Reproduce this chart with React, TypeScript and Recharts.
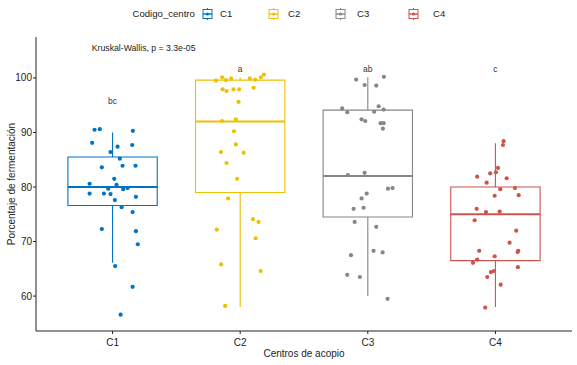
import React from "react";
import {
  ComposedChart,
  Scatter,
  XAxis,
  YAxis,
  ReferenceArea,
  ReferenceLine,
  Label,
} from "recharts";

const centros = ["C1", "C2", "C3", "C4"];
const colores = ["#0073C2", "#EFC000", "#868686", "#CD534C"];

// porcentaje de fermentacion por centro, con el desplazamiento horizontal (jitter)
const c1Valores = [90.5, 90.6, 90.3, 88.1, 87.4, 87.7, 86.4, 85.2, 83.6, 83.9, 83.9, 81.5, 80.6, 80.4, 79.7, 79.6, 79.8, 78.8, 78.8, 78.7, 77.6, 78.2, 76.3, 75.4, 72.3, 71.9, 69.5, 65.5, 61.7, 56.6];
const c1Jitter = [-0.141, -0.1, 0.159, -0.16, 0.039, 0.154, -0.016, 0.057, -0.084, 0.078, 0.18, 0.013, -0.18, 0.031, -0.034, 0.083, 0.118, -0.18, -0.068, -0.016, 0.018, 0.183, 0.071, 0.157, -0.084, 0.183, 0.198, 0.02, 0.157, 0.063];

const c2Valores = [99.5, 100.1, 99.6, 99.9, 99.9, 99.7, 100.1, 100.6, 97.9, 97.6, 97.9, 97.9, 98.2, 95.6, 92.1, 92.4, 90.2, 87.8, 86.4, 86.3, 84.4, 81.5, 77.9, 74.1, 73.6, 72.2, 70.6, 65.8, 64.6, 58.2];
const c2Jitter = [-0.19, -0.141, -0.112, -0.071, 0.076, 0.118, 0.162, 0.186, -0.138, -0.107, -0.052, -0.008, 0.105, -0.013, -0.143, -0.034, -0.049, -0.034, -0.151, 0.027, -0.107, -0.024, -0.094, 0.1, 0.144, -0.183, 0.121, -0.149, 0.16, -0.118];

const c3Valores = [99.7, 100.2, 98.7, 98.6, 94.4, 93.7, 94.8, 93.8, 94.2, 92.4, 92.1, 91.7, 91.7, 90.7, 82.2, 82.6, 79.7, 79.8, 78.8, 77.9, 76.0, 76.2, 73.6, 72.7, 68.3, 68.0, 67.5, 63.9, 63.5, 59.5];
const c3Jitter = [-0.091, 0.126, -0.025, 0.066, -0.201, -0.161, 0.085, 0.05, 0.124, -0.049, -0.02, 0.1, 0.124, 0.118, -0.156, -0.025, 0.158, 0.194, -0.009, -0.049, -0.111, -0.033, -0.103, 0.066, 0.045, 0.116, -0.132, -0.161, -0.062, 0.155];

const c4Valores = [88.4, 87.7, 83.5, 82.5, 82.7, 81.9, 81.6, 80.8, 79.6, 79.8, 78.5, 78.4, 76.0, 75.4, 75.5, 73.9, 72.0, 69.8, 68.3, 68.3, 68.1, 67.3, 66.7, 66.1, 65.3, 64.6, 64.4, 63.5, 62.1, 57.9];
const c4Jitter = [0.064, 0.059, 0.02, -0.041, 0.004, -0.143, 0.088, -0.069, 0.038, 0.153, 0.182, -0.006, -0.147, -0.074, 0.033, -0.163, 0.163, 0.111, -0.127, 0.179, 0.174, -0.006, -0.143, -0.176, 0.176, -0.012, -0.035, -0.064, 0.041, -0.08];

// resumen de cinco numeros de cada caja
const minimos = [66.1, 58.0, 60.0, 58.0];
const cuartil1 = [76.6, 79.0, 74.5, 66.5];
const medianas = [80.0, 92.0, 82.0, 75.0];
const cuartil3 = [85.5, 99.6, 94.1, 80.0];
const maximos = [90.0, 100.1, 100.1, 88.0];

const letras = ["bc", "a", "ab", "c"];
const alturaLetras = [95.7, 101.6, 101.7, 101.6];

const valores = [c1Valores, c2Valores, c3Valores, c4Valores];
const jitters = [c1Jitter, c2Jitter, c3Jitter, c4Jitter];

const FONT = "'Liberation Sans', Arial, Helvetica, sans-serif";
const MEDIO_ANCHO = 0.35;

const puntos = valores.map((vals, i) =>
  vals.map((v, j) => ({ x: i + 1 + jitters[i][j], y: v }))
);
const letrasData = letras.map((l, i) => ({ x: i + 1, y: alturaLetras[i], label: l }));
const kruskalData = [{ x: 0.837, y: 105.45, label: "Kruskal-Wallis, p = 3.3e-05" }];

const LegendKey = ({ color }: { color: string }) => (
  <svg width={11} height={12} style={{ display: "block" }}>
    <line x1={5.5} y1={0} x2={5.5} y2={12} stroke={color} strokeWidth={1} />
    <rect x={1} y={1.5} width={9} height={9} fill="#fff" stroke={color} strokeWidth={1} />
    <line x1={1} y1={6} x2={10} y2={6} stroke={color} strokeWidth={1.4} />
    <circle cx={5.5} cy={6} r={1.6} fill={color} />
  </svg>
);

const iconoX = [202, 268, 335, 408];
const textoX = [220, 288, 357, 433];

export default function App() {
  return (
    <div style={{ position: "absolute", left: 0, top: 0, width: 577, height: 365, background: "#fff", fontFamily: FONT }}>
      <div style={{ position: "absolute", left: 132.5, top: 7, fontSize: 9.6, color: "#222", lineHeight: "14px" }}>
        Codigo_centro
      </div>
      {centros.map((c, i) => (
        <React.Fragment key={c}>
          <div style={{ position: "absolute", left: iconoX[i], top: 8 }}>
            <LegendKey color={colores[i]} />
          </div>
          <div style={{ position: "absolute", left: textoX[i], top: 7, fontSize: 9.6, color: "#222", lineHeight: "14px" }}>
            {c}
          </div>
        </React.Fragment>
      ))}
      <ComposedChart width={577} height={365} margin={{ top: 37, right: 5, bottom: 0, left: 0 }}>
        <XAxis
          type="number"
          dataKey="x"
          domain={[0.4, 4.6]}
          ticks={[1, 2, 3, 4]}
          tickFormatter={(v: number) => centros[v - 1]}
          allowDataOverflow
          height={34}
          stroke="#222"
          tickSize={3}
          tickMargin={5}
          tick={{ fill: "#222", fontSize: 10, fontFamily: FONT }}
        >
          <Label value="Centros de acopio" position="insideBottom" offset={8} style={{ fill: "#222", fontSize: 10, fontFamily: FONT }} />
        </XAxis>
        <YAxis
          type="number"
          dataKey="y"
          domain={[53.6, 107.5]}
          ticks={[60, 70, 80, 90, 100]}
          allowDataOverflow
          width={36}
          stroke="#222"
          tickSize={3}
          tickMargin={1}
          tick={{ fill: "#222", fontSize: 10, fontFamily: FONT }}
        >
          <Label
            value="Porcentaje de fermentación"
            angle={-90}
            position="insideLeft"
            offset={11}
            style={{ fill: "#222", fontSize: 10, fontFamily: FONT, textAnchor: "middle" }}
          />
        </YAxis>

        {centros.map((c, i) => (
          <ReferenceLine
            key={"wu" + c}
            segment={[{ x: i + 1, y: cuartil3[i] }, { x: i + 1, y: maximos[i] }]}
            stroke={colores[i]}
            strokeWidth={1.1}
          />
        ))}
        {centros.map((c, i) => (
          <ReferenceLine
            key={"wl" + c}
            segment={[{ x: i + 1, y: minimos[i] }, { x: i + 1, y: cuartil1[i] }]}
            stroke={colores[i]}
            strokeWidth={1.1}
          />
        ))}
        {centros.map((c, i) => (
          <ReferenceArea
            key={"box" + c}
            x1={i + 1 - MEDIO_ANCHO}
            x2={i + 1 + MEDIO_ANCHO}
            y1={cuartil1[i]}
            y2={cuartil3[i]}
            fill="#fff"
            fillOpacity={1}
            stroke={colores[i]}
            strokeWidth={1.1}
          />
        ))}
        {centros.map((c, i) => (
          <ReferenceLine
            key={"med" + c}
            segment={[{ x: i + 1 - MEDIO_ANCHO, y: medianas[i] }, { x: i + 1 + MEDIO_ANCHO, y: medianas[i] }]}
            stroke={colores[i]}
            strokeWidth={2}
          />
        ))}

        {centros.map((c, i) => (
          <Scatter
            key={"pts" + c}
            data={puntos[i]}
            isAnimationActive={false}
            fill={colores[i]}
            shape={(p: any) => <circle cx={p.cx} cy={p.cy} r={2.1} fill={colores[i]} />}
          />
        ))}

        <Scatter
          data={letrasData}
          isAnimationActive={false}
          shape={(p: any) => (
            <text x={p.cx} y={p.cy} textAnchor="middle" dominantBaseline="central" fontSize={8.5} fontFamily={FONT} fill="#333">
              {p.payload.label}
            </text>
          )}
        />
        <Scatter
          data={kruskalData}
          isAnimationActive={false}
          shape={(p: any) => (
            <text x={p.cx} y={p.cy} textAnchor="start" dominantBaseline="central" fontSize={8.7} fontFamily={FONT} fill="#222">
              {p.payload.label}
            </text>
          )}
        />
      </ComposedChart>
    </div>
  );
}
